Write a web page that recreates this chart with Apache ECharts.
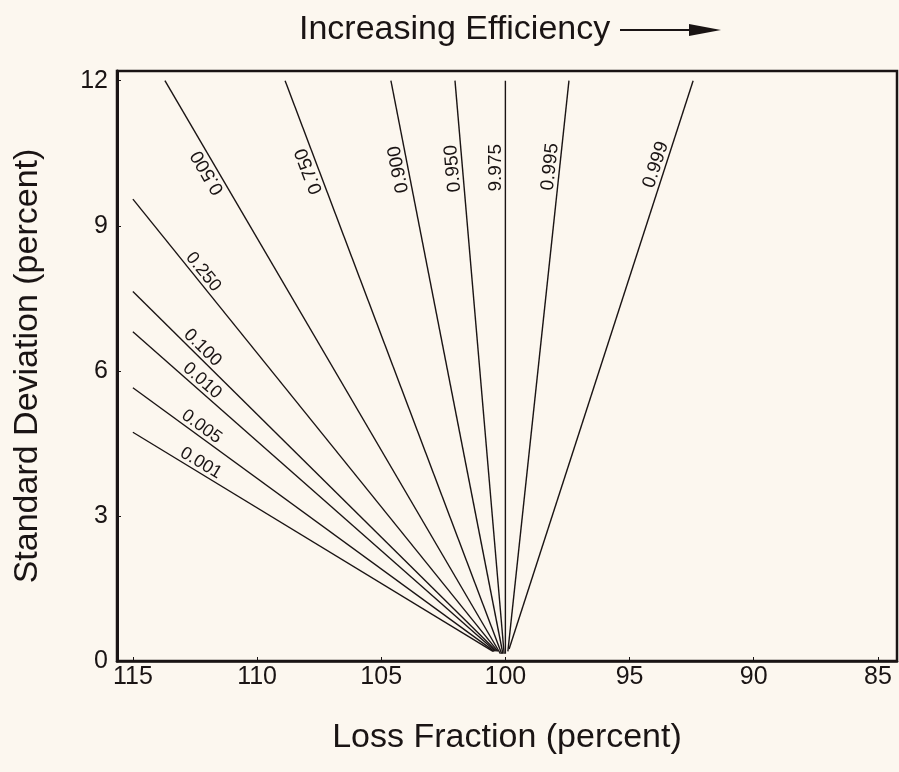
<!DOCTYPE html>
<html>
<head>
<meta charset="utf-8">
<script src="https://cdn.jsdelivr.net/npm/echarts@6/dist/echarts.min.js"></script>
<style>
html,body{margin:0;padding:0;background:#fcf7ef;}
#c{width:899px;height:772px;}
</style>
</head>
<body>
<div id="c"></div>
<script>
// ---- data ----
const lineNames = ['0.001','0.005','0.010','0.100','0.250','0.500','0.750','0.900','0.950','9.975','0.995','0.999'];
const lossStart = [100.5, 100.45, 100.4, 100.35, 100.3, 100.2, 100.15, 100.1, 100.05, 100.0, 99.9, 99.85];
const sdStart   = [0.2, 0.2, 0.2, 0.2, 0.2, 0.15, 0.15, 0.15, 0.15, 0.15, 0.2, 0.25];
const lossEnd   = [115.0, 115.0, 115.0, 115.0, 115.0, 113.71, 108.87, 104.61, 102.03, 100.0, 97.44, 92.44];
const sdEnd     = [4.73, 5.65, 6.81, 7.64, 9.55, 12.0, 12.0, 12.0, 12.0, 12.0, 12.0, 12.0];
const xTicks = [115, 110, 105, 100, 95, 90, 85];
const yTicks = [0, 3, 6, 9, 12];

const FONT = '"Liberation Sans", Arial, Helvetica, sans-serif';
const INK = '#1a1414';

const chart = echarts.init(document.getElementById('c'), null, {renderer: 'canvas'});

const series = lineNames.map((n, i) => ({
  type: 'line',
  name: n,
  data: [[lossStart[i], sdStart[i]], [lossEnd[i], sdEnd[i]]],
  symbol: 'none',
  silent: true,
  animation: false,
  lineStyle: {color: INK, width: 1.4}
}));

const option = {
  backgroundColor: '#fcf7ef',
  animation: false,
  title: {
    text: 'Increasing Efficiency',
    left: 294, top: 8,
    textStyle: {fontFamily: FONT, fontSize: 34, fontWeight: 'normal', color: INK}
  },
  grid: {left: 117, right: 2, top: 71, bottom: 111, containLabel: false},
  xAxis: {
    type: 'value', inverse: true, min: 84.23, max: 115.64,
    name: 'Loss Fraction (percent)', nameLocation: 'middle', nameGap: 60,
    nameTextStyle: {fontFamily: FONT, fontSize: 34, color: INK},
    axisLine: {show: true, lineStyle: {color: INK, width: 2.5}},
    axisTick: {show: true, inside: true, length: 4, customValues: xTicks, lineStyle: {color: INK}},
    axisLabel: {customValues: xTicks, fontFamily: FONT, fontSize: 25, color: INK, margin: 4},
    splitLine: {show: false}
  },
  yAxis: {
    type: 'value', min: 0, max: 12.2,
    name: 'Standard Deviation (percent)', nameLocation: 'middle', nameGap: 72,
    nameTextStyle: {fontFamily: FONT, fontSize: 34, color: INK},
    axisLine: {show: true, lineStyle: {color: INK, width: 3}},
    axisTick: {show: true, inside: true, length: 4, customValues: yTicks, lineStyle: {color: INK}},
    axisLabel: {customValues: yTicks, fontFamily: FONT, fontSize: 25, color: INK, margin: 9},
    splitLine: {show: false}
  },
  graphic: [
    {type: 'rect', shape: {x: 117, y: 71, width: 780, height: 590}, style: {fill: 'none', stroke: INK, lineWidth: 2.5}, silent: true, z: 10},
    {type: 'line', shape: {x1: 620, y1: 30, x2: 695, y2: 30}, style: {stroke: INK, lineWidth: 2.2}},
    {type: 'polygon', shape: {points: [[689, 24], [721, 30], [689, 36]]}, style: {fill: INK}}
  ],
  series: series
};
chart.setOption(option);

// ---- labels along each line ----
const anchorLoss = 112.45;  // left group: anchor by loss value
const anchorSd = 10.2;      // upper group: anchor by sd value
series.forEach((s, i) => {
  const leftGroup = i < 5;
  let ax, ay;
  if (leftGroup) {
    const t = (anchorLoss - lossStart[i]) / (lossEnd[i] - lossStart[i]);
    ax = anchorLoss; ay = sdStart[i] + t * (sdEnd[i] - sdStart[i]);
  } else {
    const t = (anchorSd - sdStart[i]) / (sdEnd[i] - sdStart[i]);
    ay = anchorSd; ax = lossStart[i] + t * (lossEnd[i] - lossStart[i]);
  }
  const p0 = chart.convertToPixel({gridIndex: 0}, [lossStart[i], sdStart[i]]);
  const p1 = chart.convertToPixel({gridIndex: 0}, [lossEnd[i], sdEnd[i]]);
  let dx, dy;
  if (leftGroup) { dx = p0[0] - p1[0]; dy = p0[1] - p1[1]; }
  else { dx = p1[0] - p0[0]; dy = p1[1] - p0[1]; }
  const ang = Math.atan2(-dy, dx) * 180 / Math.PI;
  s.markPoint = {
    silent: true, animation: false,
    symbol: 'circle', symbolSize: 0,
    data: [{
      coord: [ax, ay],
      label: {
        show: true, position: 'inside', formatter: lineNames[i],
        rotate: ang, align: 'center', verticalAlign: 'bottom',
        fontFamily: FONT, fontSize: leftGroup ? 18 : 19, color: INK
      }
    }]
  };
});
chart.setOption({series: series});
</script>
</body>
</html>
